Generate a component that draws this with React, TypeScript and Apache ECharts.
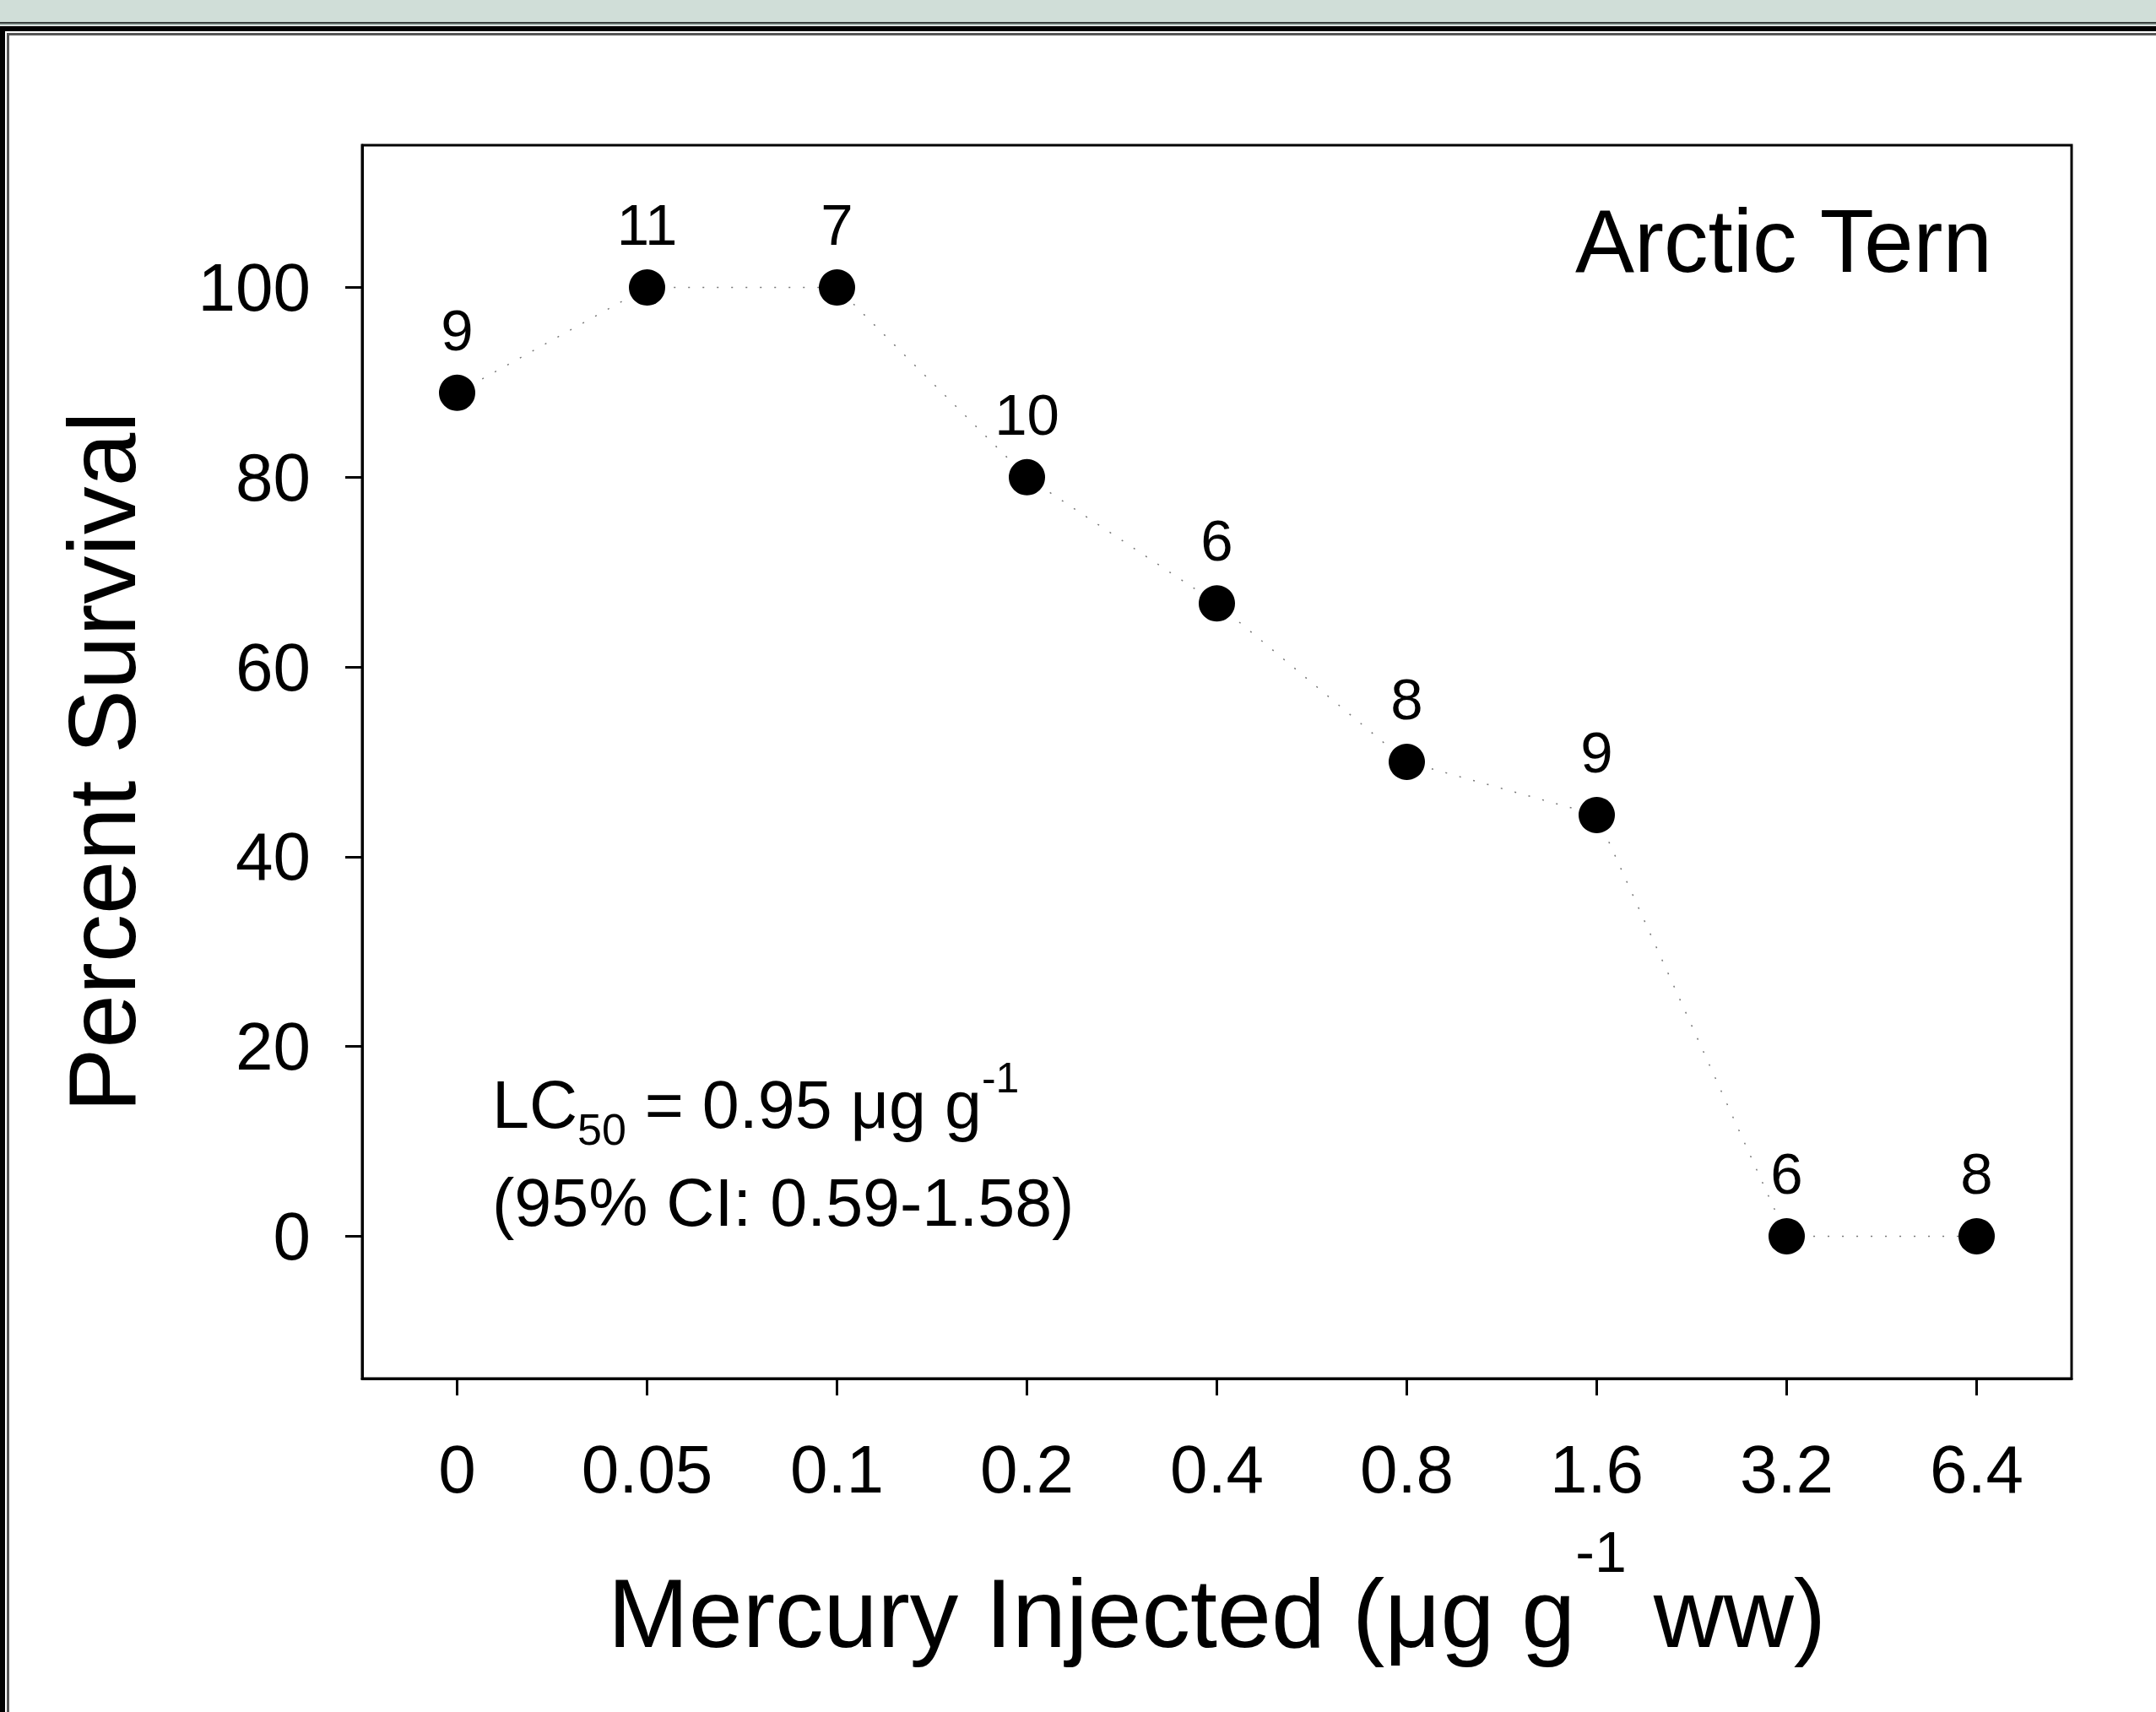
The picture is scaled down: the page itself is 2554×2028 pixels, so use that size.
import React, { useEffect, useRef } from 'react';
import * as echarts from 'echarts';

const categories = ['0', '0.05', '0.1', '0.2', '0.4', '0.8', '1.6', '3.2', '6.4'];
const survival = [88.9, 100, 100, 80, 66.7, 50, 44.4, 0, 0];
const sampleSizes = ['9', '11', '7', '10', '6', '8', '9', '6', '8'];
const yTickValues = [0, 20, 40, 60, 80, 100];
const speciesLabel = 'Arctic Tern';
const yTitle = 'Percent Survival';

const FONT = 'Arial, "Liberation Sans", Helvetica, sans-serif';

export default function App() {
  const ref = useRef<HTMLDivElement>(null);
  useEffect(() => {
    if (!ref.current) return;
    const chart = echarts.init(ref.current, null, { renderer: 'svg' });
    chart.setOption({
      animation: false,
      backgroundColor: '#ffffff',
      grid: {
        left: 429,
        right: 100,
        top: 172,
        bottom: 395,
        show: true,
        borderColor: '#000',
        borderWidth: 3,
        backgroundColor: 'transparent',
        outerBoundsMode: 'none',
      },
      xAxis: {
        type: 'category',
        data: categories,
        boundaryGap: true,
        axisLine: { show: true, onZero: false, lineStyle: { color: '#000', width: 3 } },
        axisTick: { show: true, alignWithLabel: true, interval: 0, length: 20, lineStyle: { color: '#000', width: 3 } },
        axisLabel: { interval: 0, color: '#000', fontSize: 80, fontFamily: FONT, margin: 67 },
        splitLine: { show: false },
        name: '{m|Mercury Injected (μg g}{s|-1}{m| ww)}',
        nameLocation: 'middle',
        nameGap: 171,
        nameTextStyle: {
          color: '#000',
          fontFamily: FONT,
          rich: {
            m: { fontSize: 115, lineHeight: 164, verticalAlign: 'bottom', fontFamily: FONT, color: '#000' },
            s: { fontSize: 68, lineHeight: 72, verticalAlign: 'top', fontFamily: FONT, color: '#000' },
          },
        },
      },
      yAxis: {
        type: 'value',
        min: -15,
        max: 115,
        axisLine: { show: true, lineStyle: { color: '#000', width: 3 } },
        axisTick: { show: true, length: 20, customValues: yTickValues, lineStyle: { color: '#000', width: 3 } },
        axisLabel: { customValues: yTickValues, color: '#000', fontSize: 80, fontFamily: FONT, margin: 61 },
        splitLine: { show: false },
        name: yTitle,
        nameLocation: 'middle',
        nameRotate: 90,
        nameGap: 252,
        nameTextStyle: { color: '#000', fontSize: 114, fontFamily: FONT },
      },
      series: [
        {
          type: 'line',
          data: survival,
          symbol: 'circle',
          symbolSize: 43,
          itemStyle: { color: '#000' },
          lineStyle: { color: '#777', width: 1.5, type: [2, 15] },
          label: {
            show: true,
            position: 'top',
            distance: 18,
            fontSize: 69,
            color: '#000',
            fontFamily: FONT,
            formatter: (p: any) => sampleSizes[p.dataIndex],
          },
          emphasis: { disabled: true },
          z: 3,
        },
      ],
      graphic: [
        { type: 'rect', silent: true, shape: { x: 0, y: 0, width: 2554, height: 26 }, style: { fill: '#d0ded8' } },
        { type: 'rect', silent: true, shape: { x: 0, y: 26, width: 2554, height: 2 }, style: { fill: '#3a403e' } },
        { type: 'rect', silent: true, shape: { x: 0, y: 28, width: 2554, height: 2 }, style: { fill: '#a6b6b0' } },
        { type: 'rect', silent: true, shape: { x: 0, y: 31, width: 2554, height: 6 }, style: { fill: '#000' } },
        { type: 'rect', silent: true, shape: { x: 8, y: 39, width: 2546, height: 3 }, style: { fill: '#555' } },
        { type: 'rect', silent: true, shape: { x: 0, y: 31, width: 6, height: 1997 }, style: { fill: '#000' } },
        { type: 'rect', silent: true, shape: { x: 8, y: 39, width: 3, height: 1989 }, style: { fill: '#555' } },
        {
          type: 'text',
          silent: true,
          x: 2360,
          y: 285,
          style: { text: speciesLabel, fontSize: 105, fontFamily: FONT, fill: '#000', align: 'right', verticalAlign: 'middle' },
        },
        {
          type: 'text',
          silent: true,
          x: 583,
          y: 1252,
          style: {
            text: '{m|LC}{sub|50}{m| = 0.95 μg g}{sup|-1}\n{m2|(95% CI: 0.59-1.58)}',
            fontSize: 79,
            fontFamily: FONT,
            fill: '#000',
            align: 'left',
            verticalAlign: 'top',
            rich: {
              m: { fontSize: 79, lineHeight: 112, fontFamily: FONT, fill: '#000' },
              sub: { fontSize: 52, lineHeight: 52, verticalAlign: 'bottom', fontFamily: FONT, fill: '#000' },
              sup: { fontSize: 50, lineHeight: 54, verticalAlign: 'top', fontFamily: FONT, fill: '#000' },
              m2: { fontSize: 79, lineHeight: 120, fontFamily: FONT, fill: '#000' },
            },
          },
        },
      ],
    });
    return () => chart.dispose();
  }, []);
  return (
    <div
      ref={ref}
      style={{ position: 'absolute', left: 0, top: 0, width: 2554, height: 2028, background: '#fff' }}
    />
  );
}
